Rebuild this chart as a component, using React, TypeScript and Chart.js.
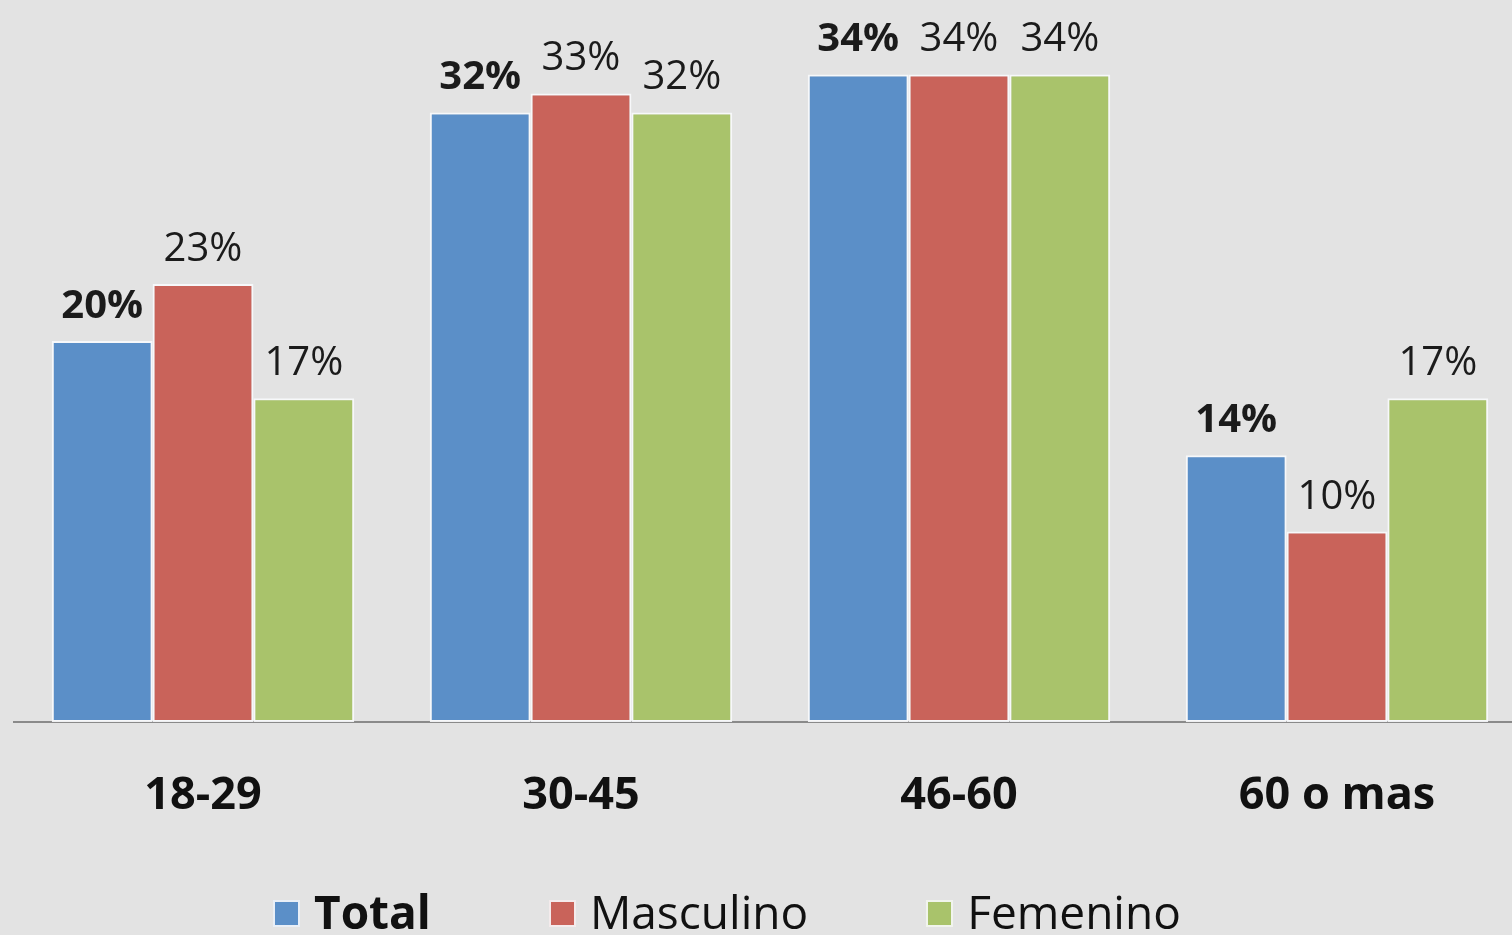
import React, { useEffect, useRef } from "react";
import { Chart, registerables } from "chart.js";

Chart.register(...registerables);

const categories = ["18-29", "30-45", "46-60", "60 o mas"];
const seriesNames = ["Total", "Masculino", "Femenino"];
const totalValues = [20, 32, 34, 14];
const masculinoValues = [23, 33, 34, 10];
const femeninoValues = [17, 32, 34, 17];
const seriesColors = ["#5b8fc8", "#c9635a", "#a9c36b"];
const seriesBold = [true, false, false];

const FONT = '"Open Sans", "DejaVu Sans", sans-serif';

const valueLabelPlugin = {
  id: "valueLabels",
  afterDatasetsDraw(chart: any) {
    const ctx = chart.ctx;
    ctx.save();
    ctx.textAlign = "center";
    ctx.textBaseline = "alphabetic";
    ctx.fillStyle = "#1b1b1b";
    chart.data.datasets.forEach((ds: any, i: number) => {
      const meta = chart.getDatasetMeta(i);
      ctx.font = `${seriesBold[i] ? "bold " : ""}40px ${FONT}`;
      meta.data.forEach((bar: any, j: number) => {
        ctx.fillText(`${ds.data[j]}%`, bar.x, bar.y - 23);
      });
    });
    ctx.restore();
  },
};

export default function App() {
  const canvasRef = useRef<HTMLCanvasElement | null>(null);

  useEffect(() => {
    document.body.style.margin = "0";
    const canvas = canvasRef.current;
    if (!canvas) return;
    const values = [totalValues, masculinoValues, femeninoValues];
    const chart = new Chart(canvas, {
      type: "bar",
      data: {
        labels: categories,
        datasets: seriesNames.map((name, i) => ({
          label: name,
          data: values[i],
          backgroundColor: seriesColors[i],
          borderColor: "rgba(248,250,252,0.9)",
          borderWidth: 2,
          borderSkipped: false,
          categoryPercentage: 0.8,
          barPercentage: 1.0,
        })),
      },
      options: {
        responsive: false,
        animation: false,
        devicePixelRatio: 1,
        layout: { padding: { left: 14, right: 14, top: 2, bottom: 65 } },
        plugins: {
          legend: { display: false },
          tooltip: { enabled: false },
        },
        scales: {
          x: {
            grid: { display: false, drawTicks: false },
            border: { display: true, color: "#8a8a8a", width: 2 },
            ticks: {
              padding: 47,
              color: "#111111",
              font: { family: FONT, size: 45, weight: "bold" },
              maxRotation: 0,
              autoSkip: false,
            },
          },
          y: {
            display: false,
            min: 0,
            max: 37.8,
          },
        },
      },
      plugins: [valueLabelPlugin],
    });
    return () => chart.destroy();
  }, []);

  const legendItemStyle: React.CSSProperties = {
    display: "inline-flex",
    alignItems: "center",
    height: 46,
  };

  return (
    <div
      style={{
        position: "fixed",
        left: 0,
        top: 0,
        width: 1512,
        height: 935,
        overflow: "hidden",
        background: "#e3e3e3",
      }}
    >
      <canvas
        ref={canvasRef}
        width={1540}
        height={935}
        style={{ position: "absolute", left: 0, top: 0, width: 1540, height: 935 }}
      />
      <div
        style={{
          position: "absolute",
          left: 273,
          top: 888,
          display: "flex",
          gap: 118,
          fontFamily: FONT,
          fontSize: 46,
          lineHeight: "46px",
          color: "#111111",
          whiteSpace: "nowrap",
        }}
      >
        {seriesNames.map((name, i) => (
          <div key={name} style={legendItemStyle}>
            <span
              style={{
                display: "inline-block",
                width: 23,
                height: 23,
                background: seriesColors[i],
                border: "2px solid rgba(248,250,252,0.9)",
                marginRight: 14,
                marginTop: 4,
              }}
            />
            <span style={{ fontWeight: seriesBold[i] ? "bold" : "normal" }}>{name}</span>
          </div>
        ))}
      </div>
    </div>
  );
}
